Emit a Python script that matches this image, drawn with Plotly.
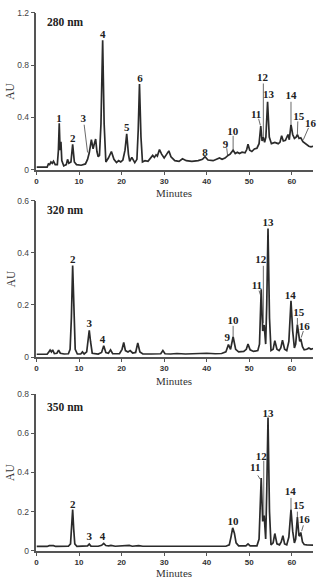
import plotly.graph_objects as go

# ---------------- data ----------------
# Panel 1: 280 nm
t_280 = [0, 2.5, 2.8, 3.1, 3.4, 3.7, 4.0, 4.4, 4.9, 5.15, 5.35, 5.55, 5.75, 5.95, 6.4, 7.0, 7.3, 7.6,
         8.1, 8.5, 8.9, 9.4, 10.5, 11.5, 12.0, 12.4, 12.9, 13.3, 13.6, 13.9, 14.2, 14.5, 14.8, 15.15,
         15.55, 15.9, 16.3, 16.9, 17.6, 18.2, 18.8, 19.3, 19.8, 20.3, 20.8, 21.2, 21.6, 21.9, 22.4,
         23.1, 23.6, 23.9, 24.2, 24.55, 24.9, 25.5, 26.2, 26.8, 27.3, 27.7, 28.1, 28.4, 28.9, 29.4,
         30.0, 30.6, 31.1, 31.6, 32.5, 33.5, 34.3, 35.2, 36.5, 38.0, 39.0, 39.6, 40.3, 41.5, 42.5,
         43.0, 43.6, 44.3, 45.0, 45.5, 46.2, 46.7, 47.2, 47.7, 48.3, 49.0, 49.4, 49.7, 50.1, 50.6,
         51.2, 51.8, 52.3, 52.7, 53.0, 53.3, 53.6, 53.9, 54.3, 54.7, 55.2, 56.0, 56.8, 57.2, 57.6,
         58.0, 58.5, 59.1, 59.4, 59.8, 60.2, 60.6, 61.0, 61.3, 61.7, 62.1, 62.6, 63.2, 64.0, 64.5, 65.0]
au_280 = [0.02, 0.02, 0.045, 0.04, 0.06, 0.05, 0.065, 0.04, 0.04, 0.15, 0.355, 0.15, 0.215, 0.07, 0.03,
          0.04, 0.08, 0.05, 0.06, 0.195, 0.06, 0.04, 0.035, 0.045, 0.08, 0.13, 0.23, 0.16, 0.2, 0.235,
          0.14, 0.1, 0.11, 0.35, 0.99, 0.35, 0.06, 0.09, 0.14, 0.08, 0.055, 0.07, 0.06, 0.075, 0.15,
          0.275, 0.12, 0.065, 0.095, 0.055, 0.08, 0.3, 0.655, 0.25, 0.06, 0.07, 0.065, 0.09, 0.11,
          0.095, 0.115, 0.105, 0.155, 0.12, 0.09, 0.12, 0.145, 0.1, 0.07, 0.065, 0.085, 0.07, 0.065,
          0.07, 0.08, 0.1, 0.075, 0.07, 0.08, 0.09, 0.08, 0.09, 0.11, 0.12, 0.15, 0.125, 0.135, 0.125,
          0.135, 0.13, 0.155, 0.195, 0.15, 0.14, 0.16, 0.165, 0.2, 0.335, 0.22, 0.25, 0.21, 0.25, 0.52,
          0.25, 0.2, 0.21, 0.2, 0.21, 0.26, 0.22, 0.225, 0.27, 0.23, 0.345, 0.27, 0.24, 0.25, 0.27,
          0.24, 0.245, 0.215, 0.2, 0.18, 0.175, 0.18]
lab_280 = ["1", "2", "3", "4", "5", "6", "8", "9", "10", "11", "12", "13", "14", "15", "16"]
lab_280_t = [5.3, 8.5, 11.0, 15.6, 21.2, 24.3, 39.6, 44.4, 46.1, 51.6, 53.1, 54.5, 59.8, 61.6, 64.4]
lab_280_au = [0.39, 0.235, 0.385, 1.03, 0.315, 0.69, 0.13, 0.19, 0.29, 0.415, 0.70, 0.57, 0.565, 0.40, 0.35]
lead_280_t0 = [11.2, 44.7, 46.2, 52.2, 53.3, 59.8, 61.4, 63.9]
lead_280_a0 = [0.345, 0.165, 0.26, 0.39, 0.66, 0.52, 0.37, 0.32]
lead_280_t1 = [12.0, 44.9, 46.2, 52.6, 53.3, 59.8, 61.3, 62.7]
lead_280_a1 = [0.133, 0.11, 0.15, 0.34, 0.25, 0.35, 0.27, 0.23]

# Panel 2: 320 nm
t_320 = [0, 2.5, 2.9, 3.2, 3.5, 3.8, 4.2, 4.8, 5.2, 5.6, 6.5, 7.5, 7.9, 8.2, 8.5, 8.8, 9.1, 9.6, 10.4,
         10.8, 11.2, 11.8, 12.1, 12.4, 12.7, 13.1, 14.5, 15.3, 15.8, 16.3, 16.9, 17.4, 17.9, 19.5, 20.1,
         20.5, 20.9, 21.5, 22.0, 22.6, 23.3, 23.8, 24.3, 25.0, 27.0, 29.2, 29.7, 30.2, 31.5, 33.0, 35.0,
         37.0, 38.5, 40.0, 42.0, 43.5, 44.5, 45.1, 45.6, 46.2, 46.8, 47.5, 48.7, 49.3, 49.7, 50.2, 51.0,
         52.0, 52.4, 52.8, 53.15, 53.5, 53.85, 54.1, 54.4, 54.75, 55.1, 55.6, 56.0, 56.5, 57.0, 57.4,
         57.8, 58.3, 58.8, 59.3, 59.8, 60.2, 60.6, 60.9, 61.3, 61.65, 61.85, 62.1, 62.5, 62.9, 63.5,
         64.0, 64.5, 65.0]
au_320 = [0.011, 0.011, 0.02, 0.027, 0.02, 0.028, 0.014, 0.015, 0.027, 0.015, 0.012, 0.013, 0.03, 0.15,
          0.351, 0.15, 0.03, 0.012, 0.012, 0.02, 0.012, 0.02, 0.06, 0.103, 0.06, 0.015, 0.012, 0.018,
          0.044, 0.018, 0.015, 0.028, 0.013, 0.013, 0.03, 0.056, 0.025, 0.02, 0.025, 0.016, 0.018,
          0.054, 0.02, 0.012, 0.012, 0.013, 0.025, 0.013, 0.012, 0.014, 0.012, 0.014, 0.016, 0.015,
          0.013, 0.014, 0.02, 0.048, 0.03, 0.078, 0.03, 0.02, 0.022, 0.03, 0.05, 0.028, 0.022, 0.025,
          0.05, 0.26, 0.1, 0.123, 0.05, 0.2, 0.493, 0.15, 0.025, 0.03, 0.063, 0.03, 0.025, 0.035,
          0.065, 0.03, 0.025, 0.06, 0.216, 0.1, 0.035, 0.05, 0.125, 0.065, 0.06, 0.07, 0.04, 0.028,
          0.03, 0.035, 0.03, 0.033]
lab_320 = ["2", "3", "4", "9", "10", "11", "12", "13", "14", "15", "16"]
lab_320_t = [8.5, 12.4, 15.5, 44.8, 46.2, 51.8, 52.7, 54.4, 59.6, 61.6, 62.9]
lab_320_au = [0.373, 0.127, 0.065, 0.073, 0.138, 0.27, 0.37, 0.512, 0.235, 0.167, 0.115]
lead_320_t0 = [46.2, 52.3, 53.3, 61.3, 62.7]
lead_320_a0 = [0.12, 0.255, 0.35, 0.15, 0.10]
lead_320_t1 = [46.2, 52.7, 53.3, 61.3, 62.2]
lead_320_a1 = [0.08, 0.235, 0.13, 0.125, 0.075]

# Panel 3: 350 nm
t_350 = [0, 2.5, 3.0, 3.5, 4.0, 4.5, 6.0, 7.5, 8.0, 8.25, 8.5, 8.75, 9.0, 9.5, 11.5, 12.0, 12.4, 12.8,
         14.5, 15.3, 15.8, 16.3, 17.0, 17.5, 18.5, 20.0, 20.5, 21.0, 21.8, 22.5, 24.0, 25.0, 30.0, 35.0,
         40.0, 44.5, 45.3, 45.7, 46.1, 46.5, 46.9, 47.5, 49.2, 49.7, 50.2, 51.8, 52.3, 52.8, 53.15,
         53.5, 53.85, 54.1, 54.4, 54.75, 55.1, 55.6, 56.0, 56.5, 57.1, 57.5, 57.9, 58.3, 58.8, 59.3,
         59.8, 60.2, 60.6, 60.9, 61.3, 61.65, 61.85, 62.1, 62.5, 62.9, 63.5, 65.0]
au_350 = [0.022, 0.022, 0.026, 0.027, 0.026, 0.022, 0.022, 0.023, 0.035, 0.11, 0.21, 0.11, 0.035, 0.022,
          0.022, 0.025, 0.034, 0.024, 0.023, 0.028, 0.038, 0.027, 0.025, 0.027, 0.023, 0.024, 0.028,
          0.025, 0.027, 0.023, 0.026, 0.023, 0.022, 0.022, 0.023, 0.023, 0.03, 0.07, 0.117, 0.09, 0.04,
          0.025, 0.025, 0.035, 0.025, 0.025, 0.06, 0.372, 0.15, 0.18, 0.06, 0.3, 0.681, 0.2, 0.03,
          0.04, 0.088, 0.035, 0.03, 0.045, 0.077, 0.035, 0.03, 0.07, 0.21, 0.1, 0.04, 0.06, 0.172,
          0.08, 0.075, 0.094, 0.045, 0.032, 0.03, 0.029]
lab_350 = ["2", "3", "4", "10", "11", "12", "13", "14", "15", "16"]
lab_350_t = [8.5, 12.4, 15.5, 46.2, 51.4, 52.8, 54.4, 59.6, 61.6, 62.9]
lab_350_au = [0.232, 0.067, 0.068, 0.144, 0.42, 0.48, 0.70, 0.297, 0.225, 0.155]
lead_350_t0 = [52.0, 53.4, 59.8, 61.3, 62.7]
lead_350_a0 = [0.385, 0.46, 0.27, 0.20, 0.13]
lead_350_t1 = [52.6, 53.4, 59.8, 61.3, 62.3]
lead_350_a1 = [0.365, 0.18, 0.21, 0.17, 0.10]

wavelengths = ["280 nm", "320 nm", "350 nm"]
y_max = [1.2, 0.6, 0.8]
y_ticks = [[0, 0.4, 0.8, 1.2], [0, 0.2, 0.4, 0.6], [0, 0.2, 0.4, 0.6, 0.8]]
x_ticks = [0, 10, 20, 30, 40, 50, 60]

panels = [
    (t_280, au_280, lab_280, lab_280_t, lab_280_au, lead_280_t0, lead_280_a0, lead_280_t1, lead_280_a1),
    (t_320, au_320, lab_320, lab_320_t, lab_320_au, lead_320_t0, lead_320_a0, lead_320_t1, lead_320_a1),
    (t_350, au_350, lab_350, lab_350_t, lab_350_au, lead_350_t0, lead_350_a0, lead_350_t1, lead_350_a1),
]

# ---------------- layout geometry (pixels) ----------------
W, H = 317, 582
x_dom = [34.7 / W, 313.1 / W]
y_px = [(8, 167.7), (199, 358.3), (396, 555.3)]   # (top, bottom) of each plot area
title_gap = [23.5, 24, 22.5]
wl_frac = [0.94, 0.937, 0.92]

LINE = "#2b2b2b"
AXC = "#555555"
SERIF = "Liberation Serif, Times New Roman, serif"
SANS = "Liberation Sans, Arial, sans-serif"

fig = go.Figure()
annotations = []
layout = {}

for i, (t, a, labs, lt, la, l0t, l0a, l1t, l1a) in enumerate(panels):
    n = "" if i == 0 else str(i + 1)
    xr, yr = "x" + n, "y" + n
    fig.add_trace(go.Scatter(x=t, y=a, mode="lines", xaxis=xr, yaxis=yr,
                             line=dict(color=LINE, width=1.7), hoverinfo="skip", showlegend=False))
    # leader lines
    lx, ly = [], []
    for k in range(len(l0t)):
        lx += [l0t[k], l1t[k], None]
        ly += [l0a[k], l1a[k], None]
    fig.add_trace(go.Scatter(x=lx, y=ly, mode="lines", xaxis=xr, yaxis=yr,
                             line=dict(color="#444444", width=0.8), hoverinfo="skip", showlegend=False))
    # peak labels
    fig.add_trace(go.Scatter(x=lt, y=la, mode="text", text=labs, xaxis=xr, yaxis=yr,
                             textfont=dict(family=SERIF, size=11, color="#222222", weight="bold"),
                             hoverinfo="skip", showlegend=False, cliponaxis=False))

    top, bot = y_px[i]
    layout["xaxis" + n] = dict(
        domain=x_dom, anchor=yr, range=[0, 65], tickvals=x_ticks, ticks="outside", ticklen=3,
        tickcolor=AXC, showline=True, linecolor=AXC, linewidth=1.5, showgrid=False, zeroline=False,
        tickfont=dict(family=SANS, size=8, color="#333333", weight="bold"), fixedrange=True)
    layout["yaxis" + n] = dict(
        domain=[1 - bot / H, 1 - top / H], anchor=xr, range=[0, y_max[i]], tickvals=y_ticks[i],
        ticktext=[("0" if v == 0 else f"{v:g}") for v in y_ticks[i]],
        ticks="outside", ticklen=4, tickcolor=AXC, showline=True, linecolor=AXC, linewidth=1.5,
        showgrid=False, zeroline=False,
        tickfont=dict(family=SANS, size=8.5, color="#444444"), fixedrange=True)

    annotations.append(dict(text="Minutes", xref=xr, x=32.2, yref=yr + " domain", y=0,
                            yshift=-title_gap[i], yanchor="middle", showarrow=False, borderpad=0,
                            font=dict(family=SERIF, size=11, color="#333333")))
    annotations.append(dict(text="AU", xref="paper", x=8.5 / W, yref=yr + " domain", y=0.5,
                            textangle=-90, showarrow=False, xanchor="center", yanchor="middle",
                            font=dict(family=SERIF, size=11.5, color="#333333")))
    annotations.append(dict(text="<b>" + wavelengths[i] + "</b>", xref=xr + " domain", x=0.03,
                            xanchor="left", yref=yr + " domain", y=wl_frac[i], yanchor="middle",
                            showarrow=False, font=dict(family=SERIF, size=11.5, color="#222222")))

fig.update_layout(
    width=W, height=H, margin=dict(l=0, r=0, t=0, b=0),
    paper_bgcolor="white", plot_bgcolor="white", annotations=annotations, **layout)

fig.write_html("out.html", config={"displayModeBar": False})
